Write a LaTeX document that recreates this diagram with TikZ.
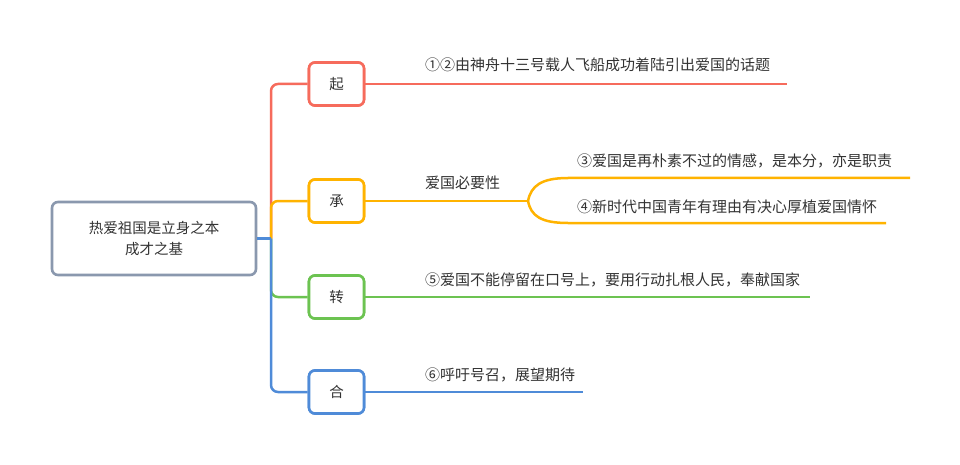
\documentclass[tikz,border=0pt]{standalone}
\usepackage{fontspec}
\setmainfont{Noto Sans CJK SC}
\definecolor{cred}{HTML}{F66B5C}
\definecolor{corange}{HTML}{FFB300}
\definecolor{cgreen}{HTML}{6CC351}
\definecolor{cblue}{HTML}{4F8BD8}
\definecolor{cgray}{HTML}{8A98AE}
\definecolor{ctext}{HTML}{333333}
\begin{document}
\begin{tikzpicture}[x=1pt,y=-1pt,
  rootbox/.style={draw=cgray,line width=2.6pt,rounded corners=6pt,minimum width=204pt,minimum height=73pt,align=center,text=ctext,font=\fontsize{14.5}{21}\selectfont},
  childbox/.style={line width=2.6pt,rounded corners=6pt,minimum width=55pt,minimum height=43pt,text=ctext,font=\fontsize{14.5}{16}\selectfont,fill=white},
  leaf/.style={anchor=west,inner sep=0pt,text=ctext,font=\fontsize{15}{17}\selectfont},
  branch/.style={line width=2.5pt},
]
\useasboundingbox (0,0) rectangle (960,465);
\fill[white] (0,0) rectangle (960,465);
% nodes
\node[rootbox] (root) at (154,238.5) {热爱祖国是立身之本\\成才之基};
\coordinate (trunk) at (271,238.5);
\node[childbox,draw=cred] (qi) at (336.5,84) {起};
\node[childbox,draw=corange] (cheng) at (336.5,201) {承};
\node[childbox,draw=cgreen] (zhuan) at (336.5,297) {转};
\node[childbox,draw=cblue] (he) at (336.5,392) {合};
% leaf texts
\node[leaf] (t1) at (425,65) {①②由神舟十三号载人飞船成功着陆引出爱国的话题};
\node[leaf] (t2) at (425,183) {爱国必要性};
\node[leaf] (t3) at (577,161) {③爱国是再朴素不过的情感，是本分，亦是职责};
\node[leaf] (t4) at (577,207) {④新时代中国青年有理由有决心厚植爱国情怀};
\node[leaf] (t5) at (425,280) {⑤爱国不能停留在口号上，要用行动扎根人民，奉献国家};
\node[leaf] (t6) at (425,375) {⑥呼吁号召，展望期待};
% coordinates for line ends
\coordinate (e1) at (787,84);
\coordinate (split) at (528,201);
\coordinate (e3a) at (568,178);
\coordinate (e3) at (910,178);
\coordinate (e4a) at (568,223);
\coordinate (e4) at (886,223);
\coordinate (e5) at (810,297);
\coordinate (e6) at (583,392);
% trunk branches
\begin{scope}[branch,rounded corners=7pt]
\draw[cred] (trunk) |- (qi.west);
\draw[corange] (trunk) |- (cheng.west);
\draw[cgreen] (trunk) |- (zhuan.west);
\draw[cblue] (trunk) |- (he.west);
\end{scope}
\draw[branch,cblue] (root.east) -- (trunk);
% child lines
\draw[branch,cred] (qi.east) -- (e1);
\draw[branch,corange] (cheng.east) -- (split);
\draw[branch,corange] (split) .. controls (531,186) and (541,178) .. (e3a) -- (e3);
\draw[branch,corange] (split) .. controls (531,216) and (541,223) .. (e4a) -- (e4);
\draw[branch,cgreen] (zhuan.east) -- (e5);
\draw[branch,cblue] (he.east) -- (e6);
% redraw boxes on top
\node[childbox,draw=cred] at (qi) {起};
\node[childbox,draw=corange] at (cheng) {承};
\node[childbox,draw=cgreen] at (zhuan) {转};
\node[childbox,draw=cblue] at (he) {合};
\end{tikzpicture}
\end{document}
